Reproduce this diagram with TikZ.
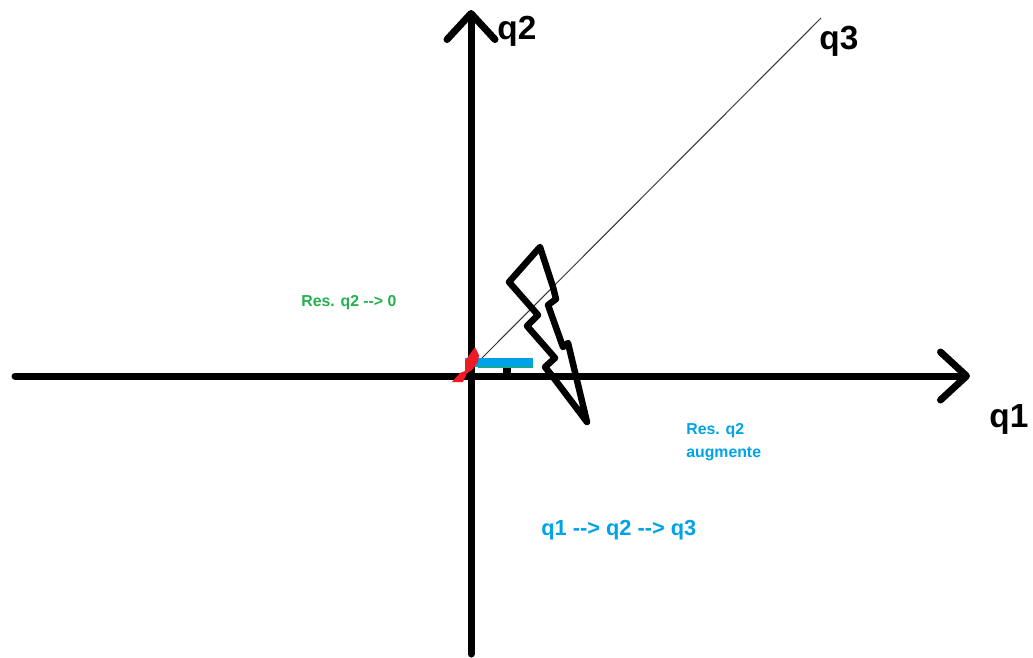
\documentclass[tikz,border=0pt]{standalone}
\usepackage{fontspec}
\setmainfont{Liberation Sans}
\usetikzlibrary{arrows.meta}
\definecolor{resblue}{HTML}{00A2E8}
\definecolor{resgreen}{HTML}{22B14C}
\definecolor{resred}{HTML}{ED1C24}
\tikzset{axis/.style={line width=1.4mm,line cap=round,-{Straight Barb[round,length=5.2mm,width=9.6mm]}},lab/.style={font=\bfseries\fontsize{19}{20}\selectfont,inner sep=0pt},res/.style={font=\bfseries\fontsize{9}{13}\selectfont,inner sep=0pt,align=left}}
\begin{document}
\begin{tikzpicture}[x=0.2mm,y=-0.2mm]
\useasboundingbox (0,0) rectangle (1033,657);
\coordinate (west) at (15,376);
\coordinate (east) at (970,376);
\coordinate (south) at (471,654);
\coordinate (north) at (471,10);
\coordinate (orig) at (478,362);
\coordinate (far) at (821,18);
\node[lab,anchor=west] (q2) at (497,31) {q2};
\node[lab,anchor=west] (q3) at (819,41) {q3};
\node[lab,anchor=west] (q1) at (989,419) {q1};
\node[res,text=resgreen,anchor=west] (stays) at (301,303) {Res. q2 -{}-> 0};
\node[res,text=resblue,anchor=north west] (grows) at (686,423) {Res. q2\\augmente};
\node[font=\bfseries\fontsize{12.4}{14}\selectfont,text=resblue,inner sep=0pt,anchor=west] (order) at (541,530) {q1 -{}-> q2 -{}-> q3};
\draw[line width=0.2mm,black!80] (orig)--(far);
\draw[axis] (west)--(east);
\draw[axis] (south)--(north);
\fill[resgreen] (478,366) rectangle (533,368);
\fill[resblue] (465,358) rectangle (533,367);
\fill[black] (503,368) rectangle (511,376);
\fill[resred] (475,347)--(479,355)--(478,362)--(472,370)--(467,373)--(463,382)--(452,382)--(460,373)--(465,371)--(465,361)--cycle;
% eclair
\draw[line width=1.3mm,line join=round] (540,247)--(509,282)--(538,315)--(527,326)--(555,358)--(545,367)--(553,377)--(587,422)--(568,343)--(563,347)--(548,305)--(556,299)--(553,287)--cycle;
\end{tikzpicture}
\end{document}
